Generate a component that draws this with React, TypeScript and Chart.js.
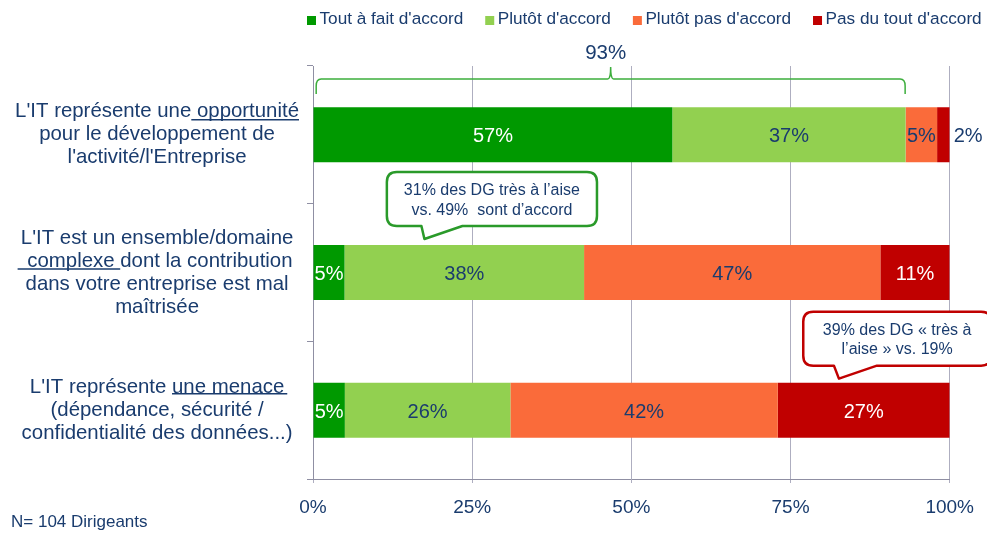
import React, { useEffect, useRef } from "react";
import { Chart, registerables } from "chart.js";

Chart.register(...registerables);

// ---------- data ----------
const categories: string[][] = [
  ["L'IT représente une opportunité", "pour le développement de", "l'activité/l'Entreprise"],
  ["L'IT est un ensemble/domaine", " complexe dont la contribution", "dans votre entreprise est mal", "maîtrisée"],
  ["L'IT représente une menace", "(dépendance, sécurité /", "confidentialité des données...)"],
];
const seriesNames = ["Tout à fait d'accord", "Plutôt d'accord", "Plutôt pas d'accord", "Pas du tout d'accord"];
const toutAFait = [57, 5, 5];
const plutot = [37, 38, 26];
const plutotPas = [5, 47, 42];
const pasDuTout = [2, 11, 27];
const xTicks = [0, 25, 50, 75, 100];
const bracketSpan = [0.5, 93];
const bracketLabel = "93%";
const callout1Lines = ["31% des DG très à l’aise", "vs. 49%  sont d’accord"];
const callout2Lines = ["39% des DG « très à", "l’aise » vs. 19%"];
const footnote = "N= 104 Dirigeants";

// ---------- styles ----------
const FONT = "'Liberation Sans', Arial, sans-serif";
const NAVY = "#1A3C6E";
const seriesColors = ["#009900", "#92D050", "#FA6B3A", "#C00000"];
const labelColors = ["#FFFFFF", NAVY, NAVY, "#FFFFFF"];
const GRID = "#AEAEC0";
const AXIS = "#8F8FA3";

const seriesValues = [toutAFait, plutot, plutotPas, pasDuTout];
const rowTotals = categories.map((_, i) => seriesValues.reduce((s, arr) => s + arr[i], 0));
const toShare = (arr: number[]) => arr.map((v, i) => (v / rowTotals[i]) * 100);

const underlines = [
  { cat: 0, line: 0, prefix: "L'IT représente une", part: " opportunité", padL: 0, padR: 0, dy: 8 },
  { cat: 1, line: 1, prefix: "", part: " complexe ", padL: 4, padR: 0, dy: 8 },
  { cat: 2, line: 0, prefix: "L'IT représente ", part: "une menace", padL: 0, padR: 3, dy: 6.5 },
];

const callouts = [
  { lines: callout1Lines, cat: 1, tip: 17.5, from: 11.6, to: 44.6, color: "#2A9A2A", baseL: 3, baseR: 38, gap: 6 },
  { lines: callout2Lines, cat: 2, tip: 82.6, from: 77.0, to: 106.5, color: "#C00000", baseL: 5, baseR: 38, gap: 4 },
];

const Y_TICK_LEN = 6;
const Y_TICK_PAD = 8;
const Y_FONT_SIZE = 20.4;
const Y_LINE_H = 23;

const annotationsPlugin = {
  id: "annotations",
  afterDatasetsDraw(chart: any) {
    const ctx: CanvasRenderingContext2D = chart.ctx;
    // data labels
    ctx.save();
    ctx.font = `20px ${FONT}`;
    ctx.textBaseline = "middle";
    chart.data.datasets.forEach((_ds: any, di: number) => {
      const meta = chart.getDatasetMeta(di);
      meta.data.forEach((el: any, i: number) => {
        const text = seriesValues[di][i] + "%";
        const { x, y, base } = el.getProps(["x", "y", "base"], true);
        const w = x - base;
        if (w < 20) {
          ctx.fillStyle = NAVY;
          ctx.textAlign = "left";
          ctx.fillText(text, x + 4, y + 2);
        } else {
          ctx.fillStyle = labelColors[di];
          ctx.textAlign = "center";
          ctx.fillText(text, (x + base) / 2, y + 2);
        }
      });
    });
    ctx.restore();
  },
  afterDraw(chart: any) {
    const ctx: CanvasRenderingContext2D = chart.ctx;
    const xs = chart.scales.x;
    const ys = chart.scales.y;
    const area = chart.chartArea;

    // legend
    ctx.save();
    ctx.font = `17.2px ${FONT}`;
    ctx.textBaseline = "middle";
    ctx.textAlign = "left";
    let lx = 307;
    seriesNames.forEach((name, i) => {
      ctx.fillStyle = seriesColors[i];
      ctx.fillRect(lx, 16, 9, 9);
      ctx.fillStyle = NAVY;
      ctx.fillText(name, lx + 12.5, 19.5);
      lx += 12.5 + ctx.measureText(name).width + 22;
    });
    ctx.restore();

    // underlines on category labels
    ctx.save();
    ctx.font = `${Y_FONT_SIZE}px ${FONT}`;
    let widest = 0;
    categories.forEach((lines) => lines.forEach((l) => (widest = Math.max(widest, ctx.measureText(l).width))));
    const cx = ys.right - Y_TICK_LEN - Y_TICK_PAD - widest / 2;
    ctx.strokeStyle = NAVY;
    ctx.lineWidth = 1.5;
    underlines.forEach((u) => {
      const lines = categories[u.cat];
      const n = lines.length;
      const pix = ys.getPixelForValue(u.cat);
      const cy = pix + ((1 - n) / 2) * Y_LINE_H + u.line * Y_LINE_H;
      const lw = ctx.measureText(lines[u.line]).width;
      const left = cx - lw / 2;
      const x0 = left + ctx.measureText(u.prefix).width - u.padL;
      const x1 = left + ctx.measureText(u.prefix + u.part).width + u.padR;
      ctx.beginPath();
      ctx.moveTo(x0, cy + u.dy);
      ctx.lineTo(x1, cy + u.dy);
      ctx.stroke();
    });
    ctx.restore();

    // bracket
    ctx.save();
    const bx0 = xs.getPixelForValue(bracketSpan[0]);
    const bx1 = xs.getPixelForValue(bracketSpan[1]);
    const bm = (bx0 + bx1) / 2;
    const t = area.top;
    ctx.strokeStyle = "#3DAE3D";
    ctx.lineWidth = 1.5;
    ctx.beginPath();
    ctx.moveTo(bx0, t + 28);
    ctx.lineTo(bx0, t + 20);
    ctx.quadraticCurveTo(bx0, t + 13, bx0 + 5, t + 13);
    ctx.lineTo(bm - 3, t + 13);
    ctx.quadraticCurveTo(bm, t + 13, bm, t + 1);
    ctx.quadraticCurveTo(bm, t + 13, bm + 3, t + 13);
    ctx.lineTo(bx1 - 5, t + 13);
    ctx.quadraticCurveTo(bx1, t + 13, bx1, t + 20);
    ctx.lineTo(bx1, t + 28);
    ctx.stroke();
    ctx.font = `20.5px ${FONT}`;
    ctx.fillStyle = NAVY;
    ctx.textAlign = "center";
    ctx.textBaseline = "middle";
    ctx.fillText(bracketLabel, bm - 5, t - 13);
    ctx.restore();

    // callouts
    callouts.forEach((c) => {
      const el = chart.getDatasetMeta(0).data[c.cat];
      const { y, height } = el.getProps(["y", "height"], true);
      const tipX = xs.getPixelForValue(c.tip);
      const tipY = y - height / 2 - c.gap;
      const bottom = tipY - 13;
      const top = bottom - 54;
      const left = xs.getPixelForValue(c.from);
      const right = xs.getPixelForValue(c.to);
      const r = 10;
      ctx.save();
      ctx.beginPath();
      ctx.moveTo(left + r, top);
      ctx.lineTo(right - r, top);
      ctx.quadraticCurveTo(right, top, right, top + r);
      ctx.lineTo(right, bottom - r);
      ctx.quadraticCurveTo(right, bottom, right - r, bottom);
      ctx.lineTo(tipX + c.baseR, bottom);
      ctx.lineTo(tipX, tipY);
      ctx.lineTo(tipX - c.baseL, bottom);
      ctx.lineTo(left + r, bottom);
      ctx.quadraticCurveTo(left, bottom, left, bottom - r);
      ctx.lineTo(left, top + r);
      ctx.quadraticCurveTo(left, top, left + r, top);
      ctx.closePath();
      ctx.fillStyle = "#FFFFFF";
      ctx.fill();
      ctx.strokeStyle = c.color;
      ctx.lineWidth = 2.5;
      ctx.lineJoin = "round";
      ctx.stroke();
      ctx.font = `16px ${FONT}`;
      ctx.fillStyle = NAVY;
      ctx.textAlign = "center";
      ctx.textBaseline = "middle";
      const mid = (top + bottom) / 2 + 1.5;
      const lh = 19.5;
      c.lines.forEach((line, i) => {
        ctx.fillText(line, (left + Math.min(right, chart.width + 4)) / 2, mid + (i - (c.lines.length - 1) / 2) * lh);
      });
      ctx.restore();
    });

    // footnote
    ctx.save();
    ctx.font = `17px ${FONT}`;
    ctx.fillStyle = NAVY;
    ctx.textAlign = "left";
    ctx.textBaseline = "middle";
    ctx.fillText(footnote, 11, 522);
    ctx.restore();
  },
};

export default function App() {
  const ref = useRef<HTMLCanvasElement>(null);
  useEffect(() => {
    const canvas = ref.current;
    if (!canvas) return;
    const chart = new Chart(canvas, {
      type: "bar",
      data: {
        labels: categories,
        datasets: seriesNames.map((name, i) => ({
          label: name,
          data: toShare(seriesValues[i]),
          backgroundColor: seriesColors[i],
          borderWidth: 0,
          categoryPercentage: 1,
          barPercentage: 0.4,
        })),
      },
      options: {
        indexAxis: "y",
        responsive: false,
        devicePixelRatio: 1,
        animation: false,
        layout: { padding: { top: 66, right: 37, left: 0, bottom: 0 } },
        plugins: {
          legend: { display: false },
          tooltip: { enabled: false },
          title: { display: false },
        },
        scales: {
          x: {
            stacked: true,
            min: 0,
            max: 100,
            afterBuildTicks: (s: any) => {
              s.ticks = xTicks.map((v) => ({ value: v }));
            },
            afterFit: (s: any) => {
              s.height = 54;
            },
            grid: { color: GRID, lineWidth: 1, tickLength: 4, drawTicks: true },
            border: { display: true, color: AXIS, width: 1 },
            ticks: {
              callback: (v: any) => v + "%",
              color: NAVY,
              font: { family: FONT, size: 19 },
              padding: 13,
              maxRotation: 0,
            },
          },
          y: {
            stacked: true,
            afterFit: (s: any) => {
              s.width = 313;
            },
            grid: { drawOnChartArea: false, drawTicks: true, tickLength: Y_TICK_LEN, color: AXIS },
            border: { display: true, color: AXIS, width: 1 },
            ticks: {
              color: NAVY,
              font: { family: FONT, size: Y_FONT_SIZE, lineHeight: Y_LINE_H / Y_FONT_SIZE },
              crossAlign: "center",
              padding: Y_TICK_PAD,
              autoSkip: false,
            },
          },
        },
      },
      plugins: [annotationsPlugin],
    } as any);
    return () => chart.destroy();
  }, []);
  return (
    <div style={{ position: "fixed", left: 0, top: 0, width: 987, height: 533, background: "#FFFFFF" }}>
      <canvas ref={ref} width={987} height={533} style={{ display: "block", width: 987, height: 533 }} />
    </div>
  );
}
